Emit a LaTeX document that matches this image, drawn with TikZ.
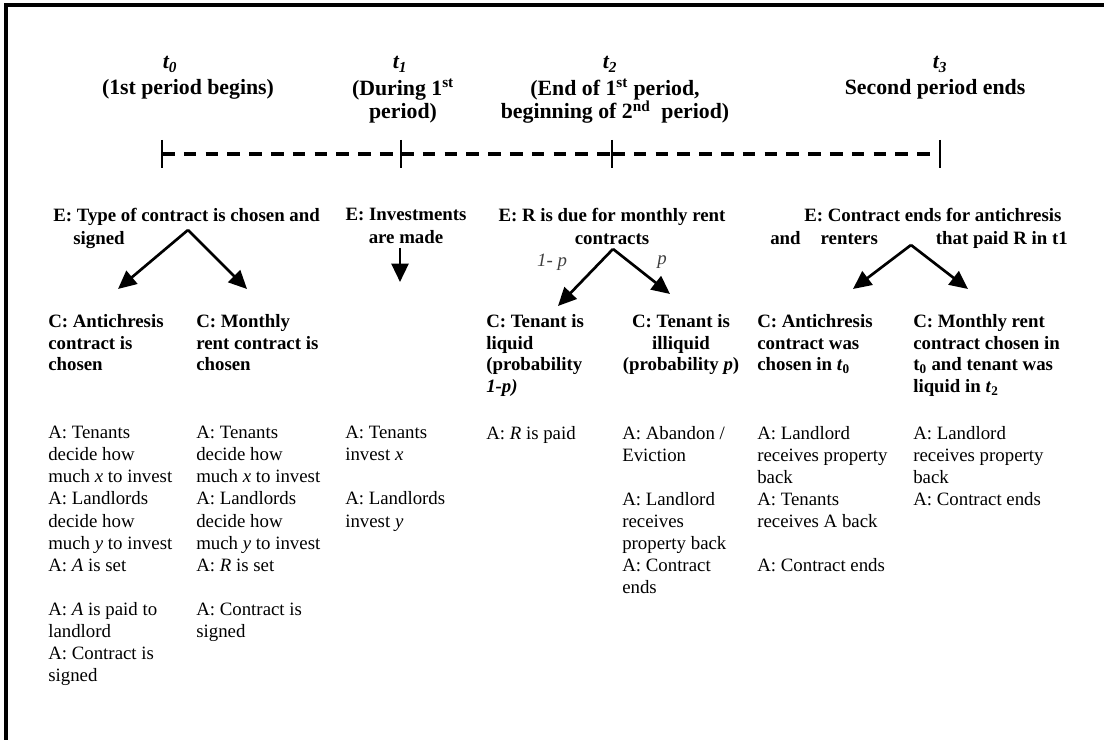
\documentclass[tikz,border=0pt]{standalone}
\usepackage{fontspec}
\setmainfont{Liberation Serif}
\usetikzlibrary{arrows.meta, positioning}

\begin{document}
\begin{tikzpicture}[
    x=0.025cm, y=-0.025cm,
    time_label/.style={font=\fontsize{15.5}{17}\selectfont\bfseries\itshape, inner sep=0pt, anchor=base},
    period_label/.style={font=\fontsize{15.5}{16.5}\selectfont\bfseries, inner sep=0pt, anchor=north, align=center},
    event_text/.style={font=\fontsize{13.4}{16.3}\selectfont\bfseries, inner sep=0pt, anchor=north west, align=left},
    choice_text/.style={font=\fontsize{13.4}{15.4}\selectfont\bfseries, inner sep=0pt, anchor=north west, align=left},
    action_text/.style={font=\fontsize{13.4}{15.7}\selectfont, inner sep=0pt, anchor=north west, align=left},
    prob_label/.style={font=\fontsize{13.4}{15.4}\selectfont\itshape, text=black!75, inner sep=0pt},
    arrow/.style={-{Triangle[length=13pt, width=12pt]}, line width=1.9pt},
    timeline/.style={line width=2.2pt, dash pattern=on 9pt off 6.5pt},
    tick_mark/.style={line width=1.6pt}
]
    \useasboundingbox (0,0) rectangle (1104,740);

    % Frame (top and left edges only)
    \draw[line width=2.2pt] (1104,5) -- (6,5) -- (6,740);

    % Time points and their descriptions
    \node[time_label] (t0) at (170,69) {t\textsubscript{0}};
    \node[period_label] (t0_desc) at (188,79) {(1st period begins)};
    \node[time_label] (t1) at (400,69) {t\textsubscript{1}};
    \node[period_label] (t1_desc) at (403,79) {(During 1\textsuperscript{st}\\period)};
    \node[time_label] (t2) at (610,69) {t\textsubscript{2}};
    \node[period_label] (t2_desc) at (615,79) {(End of 1\textsuperscript{st} period,\\beginning of 2\textsuperscript{nd}\ \ period)};
    \node[time_label] (t3) at (940,69) {t\textsubscript{3}};
    \node[period_label] (t3_desc) at (935,79) {Second period ends};

    % Dashed time line with ticks
    \coordinate (tl0) at (162,154);
    \coordinate (tl1) at (401,154);
    \coordinate (tl2) at (612,154);
    \coordinate (tl3) at (940,154);
    \draw[timeline] (tl0) -- (tl1);
    \draw[timeline] (tl1) -- (tl2);
    \draw[timeline] (tl2) -- (tl3);
    \foreach \tk in {tl0, tl1, tl2, tl3}
        \draw[tick_mark] ([yshift=10pt]\tk) -- ([yshift=-10pt]\tk);

    % Events
    \node[event_text] (ev_contract) at (53,208) {E: Type of contract is chosen and\\\hspace*{0.5cm}signed};
    \node[event_text, anchor=north, align=center] (ev_invest) at (406,208) {E: Investments\\are made};
    \node[event_text, anchor=north, align=center] (ev_rent) at (612,208) {E: R is due for monthly rent\\contracts};
    \node[event_text] (ev_end) at (770,208) {\hspace*{0.85cm}E: Contract ends for antichresis\\and\hspace{0.5cm}renters\hspace{1.45cm}that paid R in t1};

    % Branch points and arrow ends
    \coordinate (split_contract) at (188,230);
    \coordinate (to_antichresis) at (118,289);
    \coordinate (to_monthly) at (247,289);
    \coordinate (from_invest) at (400,248);
    \coordinate (to_invest) at (400,282);
    \coordinate (split_rent) at (613,249);
    \coordinate (to_liquid) at (558,306);
    \coordinate (to_illiquid) at (670,294);
    \coordinate (split_end) at (911,245);
    \coordinate (to_back) at (853,289);
    \coordinate (to_paid) at (968,289);

    \draw[arrow] (split_contract) -- (to_antichresis);
    \draw[arrow] (split_contract) -- (to_monthly);
    \draw[arrow] (from_invest) -- (to_invest);
    \draw[arrow] (split_rent) -- (to_liquid);
    \draw[arrow] (split_rent) -- (to_illiquid);
    \draw[arrow] (split_end) -- (to_back);
    \draw[arrow] (split_end) -- (to_paid);

    % Probabilities on the rent branches
    \node[prob_label] (lbl_liquid) at (552,262) {1- p};
    \node[prob_label] (lbl_illiquid) at (662,262) {p};

    % Choices
    \node[choice_text] (ch_antichresis) at (48,314) {C: Antichresis\\contract is\\chosen};
    \node[choice_text] (ch_monthly) at (196,314) {C: Monthly\\rent contract is\\chosen};
    \node[choice_text] (ch_liquid) at (486,314) {C: Tenant is\\liquid\\(probability\\\textit{1-p)}};
    \node[choice_text, anchor=north, align=center] (ch_illiquid) at (681,314) {C: Tenant is\\illiquid\\(probability \textit{p})};
    \node[choice_text] (ch_back) at (757,314) {C: Antichresis\\contract was\\chosen in \textit{t}\textsubscript{0}};
    \node[choice_text] (ch_paid) at (913,314) {C: Monthly rent\\contract chosen in\\t\textsubscript{0} and tenant was\\liquid in \textit{t}\textsubscript{2}};

    % Actions
    \node[action_text] (act_antichresis) at (48,426) {A: Tenants\\decide how\\much \textit{x} to invest\\A: Landlords\\decide how\\much \textit{y} to invest\\A: \textit{A} is set\\[15.7pt]A: \textit{A} is paid to\\landlord\\A: Contract is\\signed};
    \node[action_text] (act_monthly) at (196,426) {A: Tenants\\decide how\\much \textit{x} to invest\\A: Landlords\\decide how\\much \textit{y} to invest\\A: \textit{R} is set\\[15.7pt]A: Contract is\\signed};
    \node[action_text] (act_invest) at (345,426) {A: Tenants\\invest \textit{x}\\[15.7pt]A: Landlords\\invest \textit{y}};
    \node[action_text] (act_liquid) at (486,426) {A: \textit{R} is paid};
    \node[action_text] (act_illiquid) at (622,426) {A: Abandon /\\Eviction\\[15.7pt]A: Landlord\\receives\\property back\\A: Contract\\ends};
    \node[action_text] (act_back) at (757,426) {A: Landlord\\receives property\\back\\A: Tenants\\receives A back\\[15.7pt]A: Contract ends};
    \node[action_text] (act_paid) at (913,426) {A: Landlord\\receives property\\back\\A: Contract ends};

\end{tikzpicture}
\end{document}
